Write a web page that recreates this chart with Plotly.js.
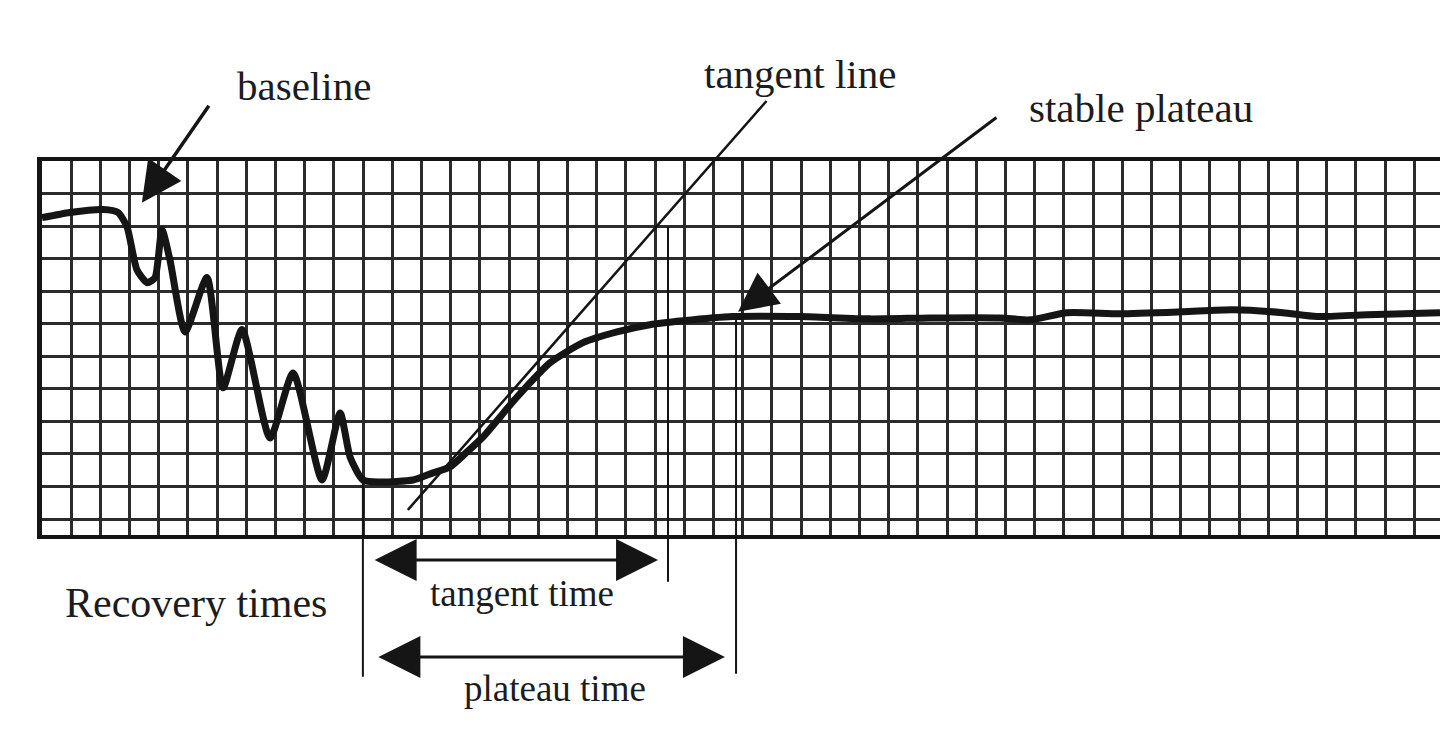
<!DOCTYPE html>
<html>
<head>
<meta charset="utf-8">
<script src="https://cdn.plot.ly/plotly-3.0.1.min.js"></script>
<style>
html,body{margin:0;padding:0;background:#fff;}
#chart{width:1440px;height:734px;}
</style>
</head>
<body>
<div id="chart"></div>
<script>
// Recorder trace, in grid cells (x: chart-paper columns, y: chart-paper rows)
const timeCells = [0, 0.96, 2.09, 2.60, 2.91, 3.25, 3.60, 3.87, 4.11, 4.38, 4.90, 5.65, 6.20, 6.85, 7.81, 8.60, 9.59, 10.21, 10.55, 10.99, 11.58, 12.71, 13.39, 13.97, 14.52, 15.10, 16.27, 17.40, 18.53, 19.69, 20.82, 21.95, 23.66, 25.96, 28.36, 30.41, 32.81, 33.84, 35.10, 36.92, 39.08, 40.79, 42.50, 43.66, 45.38, 47.88];
const signalCells = [9.26, 9.42, 9.51, 9.42, 8.98, 7.66, 7.26, 7.42, 8.89, 7.97, 5.75, 7.42, 4.03, 5.82, 2.49, 4.49, 1.20, 3.26, 1.91, 1.20, 1.14, 1.20, 1.42, 1.60, 2.03, 2.52, 3.75, 4.80, 5.42, 5.75, 5.97, 6.09, 6.22, 6.22, 6.15, 6.18, 6.18, 6.12, 6.34, 6.31, 6.37, 6.43, 6.34, 6.22, 6.28, 6.34];

// Tangent line end points (grid cells)
const tangentX = [12.53, 24.86];
const tangentY = [0.28, 12.89];

// Recovery time markers: start of recovery, end of tangent time, end of plateau time
const markerTimes = [10.99, 21.44, 23.77];
const markerTopY = [1.20, 8.98, 6.22];
const markerBottomY = [-4.89, -1.97, -4.80];

// Interval arrows (start, end in grid cells)
const tangentInterval = [11.34, 21.10];
const plateauInterval = [11.47, 23.39];

// Pointer arrows: [tip x, tip y, tail x, tail y]
const baselinePointer = [3.42, 9.72, 5.75, 12.74];
const plateauPointer = [23.84, 6.37, 32.74, 12.37];

const labels = ['baseline', 'tangent line', 'stable plateau', 'Recovery times', 'tangent time', 'plateau time'];

const ink = '#151515';
const serif = 'Liberation Serif, Times New Roman, serif';

const trace = {
  x: timeCells, y: signalCells, type: 'scatter', mode: 'lines',
  line: {color: ink, width: 7, shape: 'spline', smoothing: 0.6},
  hoverinfo: 'skip', showlegend: false
};

function lineAnn(x0, y0, x1, y1, w) {
  return {x: x0, y: y0, ax: x1, ay: y1, xref: 'x', yref: 'y', axref: 'x', ayref: 'y',
    text: '', showarrow: true, arrowhead: 0, arrowwidth: w, arrowcolor: ink, standoff: 0, font: {size: 1}};
}

const annotations = [];
// tangent line
annotations.push(lineAnn(tangentX[0], tangentY[0], tangentX[1], tangentY[1], 2.5));
// vertical markers
for (let i = 0; i < markerTimes.length; i++) {
  annotations.push(lineAnn(markerTimes[i], markerTopY[i], markerTimes[i], markerBottomY[i], 2));
}
// pointer arrows
[baselinePointer, plateauPointer].forEach(function (p, i) {
  annotations.push({x: p[0], y: p[1], ax: p[2], ay: p[3], xref: 'x', yref: 'y', axref: 'x', ayref: 'y',
    text: '', showarrow: true, arrowhead: 2, arrowsize: i === 0 ? 2.3 : 2.6, arrowwidth: i === 0 ? 3.5 : 3,
    arrowcolor: ink, standoff: 0, font: {size: 1}});
});
// interval double arrows (below plot)
[[tangentInterval, -0.0668], [plateauInterval, -0.326]].forEach(function (d) {
  annotations.push({x: d[0][1], y: d[1], ax: d[0][0], ay: 0, xref: 'x', yref: 'paper', axref: 'x', ayref: 'pixel',
    text: '', showarrow: true, arrowside: 'end+start', arrowhead: 2, startarrowhead: 2,
    arrowsize: 2.8, startarrowsize: 2.8, arrowwidth: 3, arrowcolor: ink, standoff: 0, startstandoff: 0, font: {size: 1}});
});
// text labels
const labelPos = [
  [8.96, 1.2005, 41], [25.96, 1.2326, 41], [37.64, 1.1417, 41],
  [5.27, -0.1818, 42], [16.44, -0.1551, 37], [17.57, -0.4091, 37]
];
labels.forEach(function (t, i) {
  annotations.push({text: t, x: labelPos[i][0], y: labelPos[i][1], xref: 'x', yref: 'paper',
    xanchor: 'center', yanchor: 'middle', showarrow: false,
    font: {family: serif, size: labelPos[i][2], color: '#1c1c1c'}});
});

const layout = {
  width: 1440, height: 734,
  margin: {l: 42, r: 0, t: 161, b: 199, pad: 0},
  paper_bgcolor: '#ffffff', plot_bgcolor: '#ffffff',
  showlegend: false,
  xaxis: {range: [0, 47.88], dtick: 1, tick0: 0, showgrid: true, gridcolor: '#2b2b2b', gridwidth: 3,
    zeroline: false, showticklabels: false, ticks: '', showline: true, linecolor: ink, linewidth: 4, mirror: true, fixedrange: true},
  yaxis: {range: [-0.49, 11.0], dtick: 1, tick0: 0, showgrid: true, gridcolor: '#2b2b2b', gridwidth: 3,
    zeroline: false, showticklabels: false, ticks: '', showline: true, linecolor: ink, linewidth: 5, mirror: false, fixedrange: true},
  annotations: annotations
};

Plotly.newPlot('chart', [trace], layout, {staticPlot: true, displayModeBar: false});
</script>
</body>
</html>
